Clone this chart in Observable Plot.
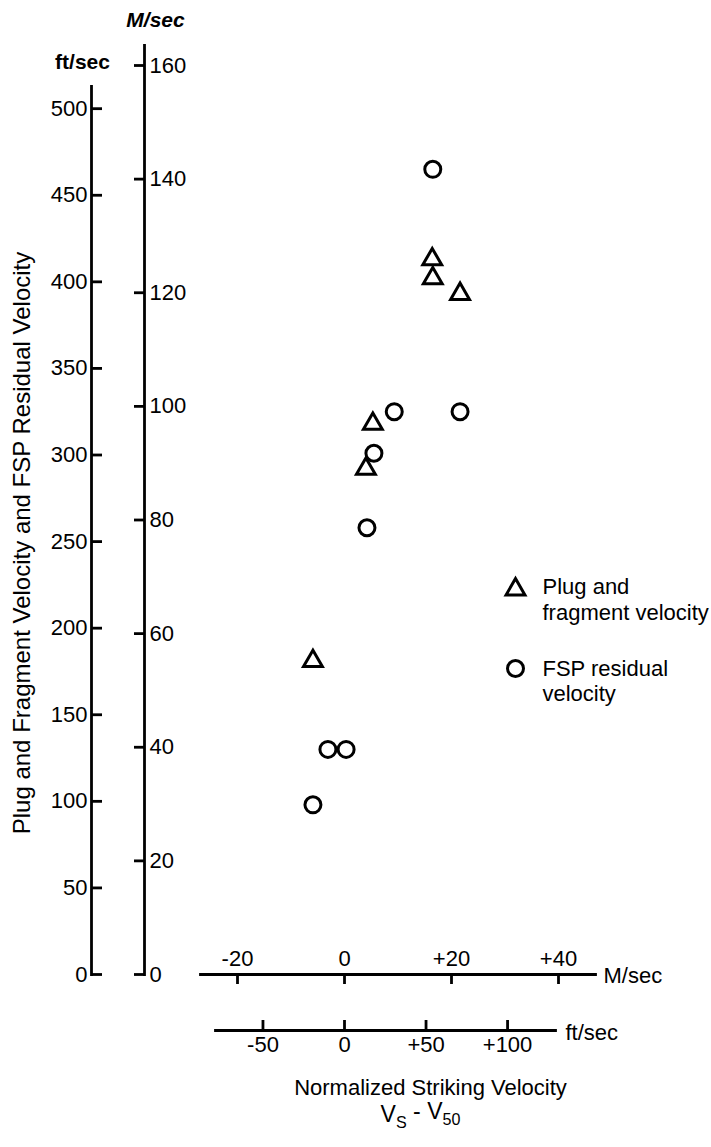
<!DOCTYPE html>
<html>
<head>
<meta charset="utf-8">
<script src="https://cdn.jsdelivr.net/npm/d3@7"></script>
<script src="https://cdn.jsdelivr.net/npm/@observablehq/plot@0.6"></script>
<style>
  html, body { margin: 0; padding: 0; background: #fff; }
  #chart svg { display: block; }
</style>
</head>
<body>
<div id="chart"></div>
<script>
// ---- data ----
const FT_PER_M = 3.28084;
// Plug and fragment velocity (triangles): x = Vs - V50 (m/sec), y = velocity (ft/sec)
const plugX = [-5.9, 4.0, 5.3, 16.4, 16.5, 21.6];
const plugY = [181, 292, 318, 413, 402, 393];
// FSP residual velocity (circles)
const fspX = [16.5, 9.3, 21.6, 5.5, 4.2, -3.1, 0.3, -5.9];
const fspY = [465, 325, 325, 301, 258, 130, 130, 98];
// tick values
const ftTicksY = [0, 50, 100, 150, 200, 250, 300, 350, 400, 450, 500];
const mTicksY = [0, 20, 40, 60, 80, 100, 120, 140, 160];
const mTicksX = [-20, 0, 20, 40];
const ftTicksX = [-50, 0, 50, 100];
const seriesLabels = ["Plug and\nfragment velocity", "FSP residual\nvelocity"];
const yTitle = "Plug and Fragment Velocity and FSP Residual Velocity";
const xTitle = "Normalized Striking Velocity";
const unitFt = "ft/sec";
const unitM = "M/sec";

const plug = plugX.map((x, i) => ({x, y: plugY[i]}));
const fsp = fspX.map((x, i) => ({x, y: fspY[i]}));
const signed = d => d > 0 ? "+" + d : d < 0 ? "-" + Math.abs(d) : "0";

const FONT = "'Liberation Sans', Arial, sans-serif";
const SW = 2.8;

const plot = Plot.plot({
  width: 711,
  height: 1147,
  marginLeft: 91,
  marginRight: 116,
  marginTop: 65,
  marginBottom: 173,
  style: {fontFamily: FONT, fontSize: "22px", color: "#000", background: "#fff"},
  x: {domain: [-20, 40], range: [237, 558], axis: null},
  y: {domain: [0, 160 * FT_PER_M], range: [974, 65], axis: null},
  marks: [
    // vertical axis lines
    Plot.frame({anchor: "left", insetTop: 21, strokeWidth: SW}),
    Plot.frame({anchor: "left", insetLeft: 53, insetTop: -20, strokeWidth: SW}),
    // ft/sec y axis: ticks to the right, labels to the left
    Plot.axisY(ftTicksY, {anchor: "left", tickSize: 11, dx: 11, tickPadding: 4, strokeWidth: SW, label: null, tickFormat: d => String(d)}),
    // M/sec y axis: ticks to the left, labels to the right
    Plot.axisY(mTicksY.map(m => m * FT_PER_M), {anchor: "left", dx: 53, tickSize: 10, tickPadding: -15, textAnchor: "start", strokeWidth: SW, label: null, tickFormat: d => String(Math.round(d / FT_PER_M))}),
    // M/sec x axis
    Plot.frame({anchor: "bottom", insetLeft: 109, strokeWidth: SW}),
    Plot.axisX(mTicksX, {anchor: "bottom", tickSize: 10, fill: "none", strokeWidth: SW, label: null}),
    Plot.axisX(mTicksX, {anchor: "bottom", tickSize: 0, tickPadding: 0, dy: -24, label: null, tickFormat: signed}),
    // ft/sec x axis
    Plot.frame({anchor: "bottom", insetLeft: 124, insetRight: 40, insetBottom: -56, strokeWidth: SW}),
    Plot.axisX(ftTicksX.map(f => f / FT_PER_M), {anchor: "bottom", tickSize: 10, dy: 46, tickPadding: 6, strokeWidth: SW, label: null, tickFormat: d => signed(Math.round(d * FT_PER_M))}),
    // unit labels
    Plot.text([unitFt], {frameAnchor: "top-left", dx: -9, dy: -3, textAnchor: "middle", lineAnchor: "middle", fontWeight: "bold", fontSize: 21}),
    Plot.text([unitM], {frameAnchor: "top-left", dx: 64, dy: -45, textAnchor: "middle", lineAnchor: "middle", fontWeight: "bold", fontStyle: "italic", fontSize: 21}),
    Plot.text([unitM], {frameAnchor: "bottom-right", dx: 8, dy: 1, textAnchor: "start", lineAnchor: "middle", fontSize: 22}),
    Plot.text([unitFt], {frameAnchor: "bottom-right", dx: -30, dy: 58, textAnchor: "start", lineAnchor: "middle", fontSize: 22}),
    // titles
    Plot.text([yTitle], {frameAnchor: "left", rotate: -90, dx: -69, dy: 23, textAnchor: "middle", lineAnchor: "middle", fontSize: 24, letterSpacing: 0.5}),
    Plot.text([xTitle], {frameAnchor: "bottom", dx: 87, dy: 113, textAnchor: "middle", lineAnchor: "middle", fontSize: 22}),
    Plot.text(["V"], {frameAnchor: "bottom", dx: 77, dy: 140, textAnchor: "middle", lineAnchor: "middle", fontSize: 23, className: "vsub"}),
    // data
    Plot.dot(plug, {x: "x", y: "y", symbol: "triangle", r: 7, stroke: "#000", strokeWidth: 3, fill: "none"}),
    Plot.dot(fsp, {x: "x", y: "y", symbol: "circle", r: 8, stroke: "#000", strokeWidth: 3, fill: "none"}),
    // legend
    Plot.dot([seriesLabels[0]], {frameAnchor: "top-left", dx: 424, dy: 524, symbol: "triangle", r: 7, stroke: "#000", strokeWidth: 3, fill: "none"}),
    Plot.dot([seriesLabels[1]], {frameAnchor: "top-left", dx: 424, dy: 603, symbol: "circle", r: 8, stroke: "#000", strokeWidth: 3, fill: "none"}),
    Plot.text([seriesLabels[0]], {frameAnchor: "top-left", dx: 451, dy: 533, textAnchor: "start", lineAnchor: "middle", lineHeight: 1.2, fontSize: 22}),
    Plot.text([seriesLabels[1]], {frameAnchor: "top-left", dx: 451, dy: 615, textAnchor: "start", lineAnchor: "middle", lineHeight: 1.15, fontSize: 22})
  ]
});

// subscripted "Vs - V50"
const vt = plot.querySelector(".vsub text");
if (vt) {
  vt.textContent = "";
  const parts = [["V", 0, null], ["S", 0.35, "70%"], [" - V", -0.35, null], ["50", 0.35, "70%"]];
  const ns = "http://www.w3.org/2000/svg";
  for (const [s, dy, fs] of parts) {
    const ts = document.createElementNS(ns, "tspan");
    ts.textContent = s;
    if (dy) ts.setAttribute("dy", dy + "em");
    if (fs) ts.setAttribute("font-size", fs);
    vt.appendChild(ts);
  }
}
document.getElementById("chart").appendChild(plot);
</script>
</body>
</html>
